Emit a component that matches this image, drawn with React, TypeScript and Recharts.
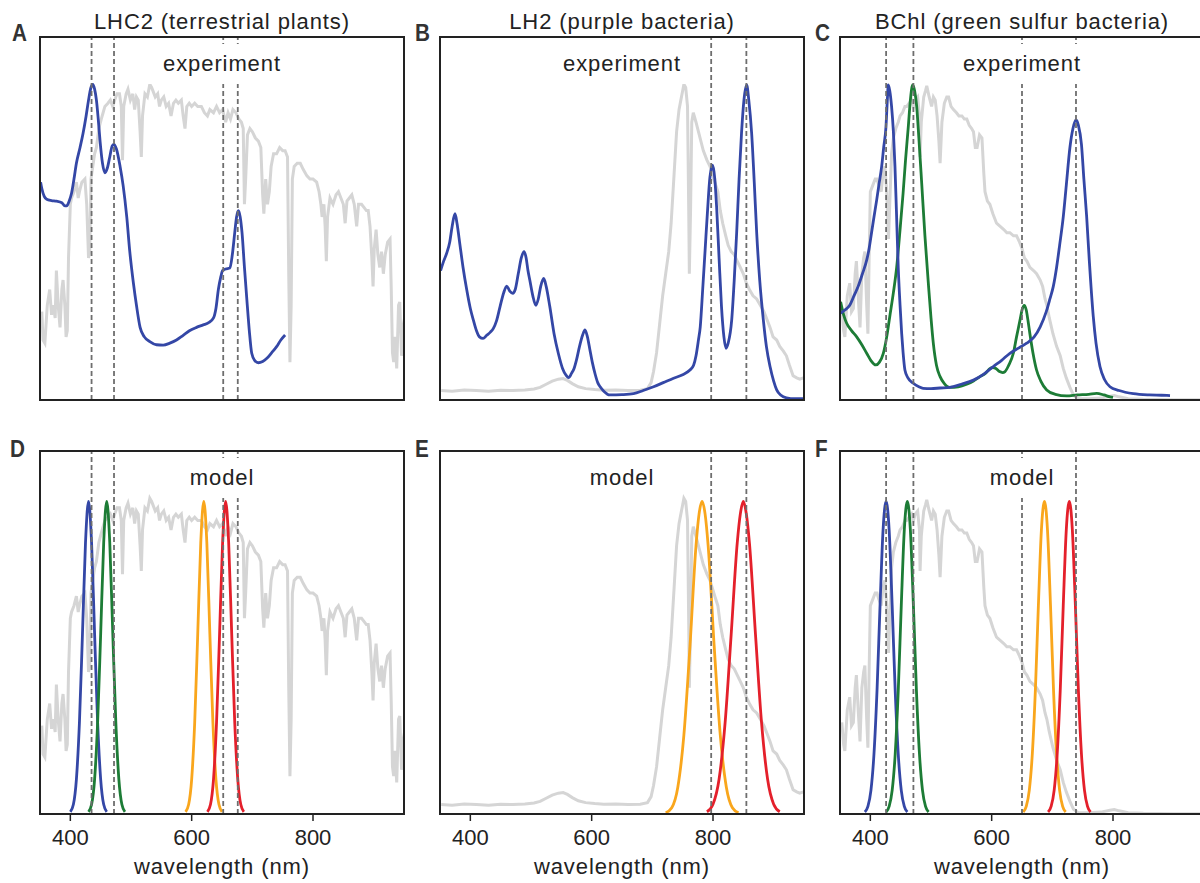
import React from "react";
import { LineChart, Line, XAxis, YAxis, ReferenceLine } from "recharts";

type Pt = [number, number];

// solar spectrum at the surface (panels A, D)
const SUN_SURFACE: Pt[] = [
  [353, 0.28], [355, 0.19], [358, 0.18], [362, 0.3], [366, 0.35], [369, 0.27], [372, 0.3], [375, 0.26],
  [377, 0.41], [380, 0.3], [383, 0.23], [386, 0.35], [388, 0.38], [391, 0.3], [393, 0.2], [395, 0.22],
  [397, 0.45], [400, 0.62], [402, 0.64], [406, 0.66], [410, 0.69], [413, 0.64], [415, 0.66], [419, 0.69],
  [424, 0.7], [427, 0.62], [430, 0.45], [432, 0.47], [434, 0.7], [437, 0.74], [440, 0.78], [443, 0.8],
  [447, 0.86], [451, 0.89], [454, 0.91], [457, 0.93], [462, 0.94], [466, 0.95], [470, 0.93], [473, 0.95],
  [477, 0.97], [481, 0.97], [484, 0.93], [486, 0.76], [488, 0.93], [492, 0.97], [495, 0.985], [499, 0.95],
  [503, 0.97], [506, 0.92], [509, 0.96], [512, 0.95], [515, 0.85], [517, 0.77], [519, 0.9], [523, 0.97],
  [527, 0.96], [531, 1.0], [534, 0.99], [536, 0.98], [540, 0.96], [544, 0.97], [547, 0.93], [550, 0.95],
  [554, 0.96], [558, 0.93], [562, 0.94], [566, 0.9], [570, 0.94], [574, 0.95], [578, 0.94], [583, 0.95],
  [586, 0.9], [589, 0.86], [592, 0.93], [596, 0.94], [600, 0.93], [605, 0.94], [610, 0.93], [616, 0.93],
  [621, 0.91], [626, 0.9], [630, 0.92], [636, 0.91], [641, 0.93], [646, 0.91], [651, 0.92], [656, 0.88],
  [660, 0.91], [664, 0.89], [668, 0.92], [673, 0.91], [678, 0.89], [682, 0.88], [685, 0.86], [687, 0.62],
  [689, 0.7], [692, 0.84], [696, 0.86], [700, 0.85], [705, 0.83], [710, 0.82], [714, 0.8], [717, 0.65],
  [719, 0.59], [722, 0.7], [725, 0.62], [728, 0.66], [731, 0.74], [735, 0.78], [740, 0.78], [745, 0.8],
  [750, 0.79], [754, 0.79], [758, 0.77], [760, 0.4], [762, 0.12], [764, 0.3], [766, 0.7], [769, 0.74],
  [774, 0.75], [779, 0.75], [784, 0.73], [790, 0.71], [795, 0.7], [800, 0.7], [806, 0.69], [810, 0.66],
  [813, 0.62], [815, 0.58], [818, 0.62], [820, 0.55], [822, 0.44], [824, 0.58], [828, 0.64], [833, 0.62],
  [838, 0.65], [842, 0.66], [846, 0.64], [850, 0.62], [853, 0.56], [856, 0.63], [860, 0.64], [864, 0.65],
  [868, 0.62], [872, 0.55], [875, 0.62], [880, 0.62], [884, 0.61], [888, 0.6], [891, 0.6], [894, 0.55],
  [897, 0.45], [899, 0.36], [901, 0.48], [904, 0.54], [907, 0.46], [910, 0.42], [913, 0.47], [916, 0.4],
  [919, 0.46], [923, 0.5], [927, 0.51], [929, 0.35], [931, 0.15], [933, 0.12], [935, 0.2], [938, 0.1],
  [941, 0.3], [943, 0.31], [946, 0.14], [949, 0.24], [951, 0.26],
];

// light under other layers, near-infrared left (panels B, E)
const SUN_FILTERED_IR: Pt[] = [
  [352, 0.03], [370, 0.028], [390, 0.032], [410, 0.03], [430, 0.028], [450, 0.031], [470, 0.03], [490, 0.032],
  [505, 0.035], [515, 0.04], [525, 0.05], [535, 0.06], [545, 0.066], [553, 0.068], [560, 0.062], [568, 0.052],
  [578, 0.042], [590, 0.036], [605, 0.033], [620, 0.031], [640, 0.032], [660, 0.03], [680, 0.031], [692, 0.036],
  [698, 0.055], [702, 0.09], [707, 0.15], [712, 0.24], [717, 0.33], [722, 0.4], [727, 0.47], [731, 0.56],
  [736, 0.72], [740, 0.85], [744, 0.92], [747, 0.95], [750, 0.98], [752, 1.0], [755, 0.99], [758, 0.93],
  [760, 0.6], [761, 0.4], [763, 0.6], [765, 0.88], [767.5, 0.91], [772, 0.88], [776, 0.85], [784, 0.79],
  [790, 0.76], [795, 0.74], [803, 0.69], [808, 0.66], [812, 0.6], [816, 0.56], [821, 0.52], [825, 0.49],
  [830, 0.47], [835, 0.46], [840, 0.44], [845, 0.42], [850, 0.4], [855, 0.37], [860, 0.35], [866, 0.33],
  [872, 0.32], [878, 0.3], [884, 0.28], [889, 0.255], [894, 0.23], [899, 0.2], [905, 0.19], [910, 0.17],
  [916, 0.155], [921, 0.14], [926, 0.11], [932, 0.077], [938, 0.07], [943, 0.066], [949, 0.07],
];

// light reaching green sulfur bacteria (panels C, F)
const SUN_FILTERED_VIS: Pt[] = [
  [353, 0.29], [356, 0.22], [358, 0.2], [362, 0.33], [366, 0.37], [369, 0.28], [372, 0.29], [375, 0.4],
  [377, 0.44], [380, 0.33], [383, 0.23], [386, 0.4], [389, 0.45], [391, 0.47], [394, 0.3], [396, 0.21],
  [398, 0.45], [400, 0.66], [404, 0.68], [408, 0.7], [411, 0.7], [414, 0.68], [418, 0.66], [421, 0.72],
  [424, 0.74], [427, 0.66], [430, 0.51], [432, 0.62], [435, 0.78], [438, 0.83], [442, 0.86], [446, 0.88],
  [449, 0.9], [453, 0.91], [457, 0.93], [460, 0.93], [464, 0.94], [468, 0.95], [471, 0.93], [474, 0.95],
  [478, 0.96], [481, 0.9], [482, 0.77], [484, 0.88], [488, 0.96], [491, 0.98], [493, 0.995], [497, 0.96],
  [501, 0.93], [504, 0.96], [507, 0.95], [510, 0.9], [513, 0.82], [515, 0.75], [518, 0.88], [522, 0.94],
  [526, 0.96], [529, 0.96], [533, 0.93], [537, 0.92], [542, 0.91], [546, 0.9], [551, 0.9], [555, 0.89],
  [559, 0.89], [563, 0.87], [567, 0.86], [570, 0.85], [573, 0.8], [576, 0.8], [580, 0.84], [584, 0.83],
  [587, 0.72], [589, 0.66], [593, 0.63], [597, 0.62], [602, 0.59], [608, 0.56], [614, 0.55], [620, 0.54],
  [625, 0.53], [630, 0.53], [636, 0.52], [641, 0.52], [646, 0.5], [650, 0.48], [654, 0.45], [658, 0.44],
  [663, 0.42], [669, 0.41], [674, 0.4], [680, 0.38], [684, 0.36], [688, 0.32], [691, 0.3], [695, 0.26],
  [701, 0.21], [707, 0.17], [713, 0.14], [718, 0.1], [723, 0.07], [729, 0.04], [735, 0.015], [742, 0.005],
  [760, 0.004], [780, 0.006], [795, 0.012], [802, 0.014], [810, 0.01], [825, 0.004], [850, 0.002],
  [900, 0.001], [950, 0.001],
];

// measured absorption
const LHC2_ABS: Pt[] = [
  [351, 0.69], [353, 0.67], [357, 0.645], [361, 0.636], [369, 0.632], [377, 0.63], [386, 0.625], [391, 0.615],
  [394, 0.615], [398, 0.63], [402, 0.655], [406, 0.7], [410, 0.75], [416, 0.8], [421, 0.845], [426, 0.9],
  [430, 0.95], [434, 0.99], [437, 1.0], [440, 0.985], [443, 0.95], [446, 0.89], [449, 0.82], [453, 0.75],
  [457, 0.72], [461, 0.735], [465, 0.77], [469, 0.805], [472, 0.81], [476, 0.795], [482, 0.74], [487, 0.68],
  [493, 0.58], [498, 0.47], [504, 0.37], [509, 0.3], [515, 0.23], [522, 0.2], [531, 0.185], [542, 0.175],
  [553, 0.174], [564, 0.18], [575, 0.19], [586, 0.205], [597, 0.22], [608, 0.23], [619, 0.238], [628, 0.245],
  [636, 0.26], [640, 0.29], [644, 0.35], [648, 0.39], [651, 0.41], [656, 0.415], [663, 0.418], [667, 0.46],
  [671, 0.53], [674, 0.58], [677, 0.6], [680, 0.58], [683, 0.53], [687, 0.42], [691, 0.317], [695, 0.22],
  [699, 0.148], [704, 0.125], [710, 0.118], [717, 0.122], [724, 0.132], [732, 0.15], [740, 0.169],
  [747, 0.19], [754, 0.206],
];

const LH2_ABS: Pt[] = [
  [351, 0.41], [356, 0.44], [361, 0.465], [366, 0.5], [370, 0.55], [374.7, 0.59], [378, 0.56], [383, 0.49],
  [388, 0.42], [394, 0.35], [400, 0.29], [405, 0.253], [410, 0.22], [415, 0.2], [421, 0.195], [427, 0.205],
  [433, 0.215], [438, 0.227], [443, 0.25], [449, 0.296], [455, 0.34], [460, 0.361], [465, 0.345], [470, 0.338],
  [474, 0.35], [479, 0.4], [484, 0.45], [488.5, 0.47], [492, 0.45], [495, 0.41], [498, 0.38], [503, 0.33],
  [508, 0.3], [512, 0.32], [516, 0.36], [521, 0.385], [525, 0.36], [531, 0.296], [538, 0.21], [545, 0.148],
  [552, 0.1], [558, 0.078], [562, 0.071], [567, 0.085], [571, 0.1], [575, 0.127], [580, 0.17], [585, 0.205],
  [589, 0.222], [593, 0.2], [597, 0.16], [601, 0.12], [606, 0.08], [610, 0.055], [614, 0.042], [620, 0.028],
  [630, 0.016], [650, 0.017], [669, 0.02], [685, 0.03], [702, 0.042], [718, 0.055], [735, 0.069], [750, 0.08],
  [762, 0.095], [768, 0.11], [772, 0.14], [776, 0.19], [779, 0.232], [783, 0.35], [787, 0.475], [791, 0.6],
  [795, 0.707], [799.5, 0.744], [803, 0.7], [806, 0.61], [810, 0.45], [814, 0.296], [818, 0.2], [821.4, 0.164],
  [825, 0.18], [830.8, 0.253], [835, 0.38], [839, 0.53], [843, 0.7], [847, 0.845], [851, 0.95], [855.5, 0.998],
  [859, 0.95], [863.7, 0.845], [868, 0.69], [872, 0.53], [877, 0.38], [883, 0.253], [888, 0.17], [894, 0.106],
  [900, 0.06], [905, 0.032], [912, 0.015], [921, 0.007], [935, 0.004], [950, 0.004],
];

const BCHL_ABS: Pt[] = [
  [351, 0.275], [358, 0.285], [366, 0.3], [373, 0.33], [380, 0.36], [387, 0.4], [394, 0.443], [398, 0.48],
  [402, 0.53], [406, 0.58], [410.5, 0.634], [414, 0.68], [418.7, 0.74], [422, 0.8], [425.8, 0.866], [428, 0.95],
  [429.6, 0.998], [432, 0.98], [435, 0.93], [438, 0.85], [440.6, 0.74], [443, 0.6], [446, 0.42], [449, 0.3],
  [451.7, 0.21], [454, 0.15], [457, 0.095], [462, 0.07], [470.8, 0.053], [480, 0.042], [487, 0.037],
  [500, 0.036], [515, 0.038], [531, 0.04], [550, 0.05], [570, 0.063], [587, 0.082], [602.7, 0.106],
  [616, 0.125], [630, 0.148], [645, 0.165], [657.7, 0.18], [670, 0.2], [680, 0.232], [690, 0.28], [696, 0.32],
  [701.6, 0.36], [707, 0.42], [712, 0.49], [718, 0.58], [723, 0.68], [729, 0.8], [734, 0.86], [739, 0.887],
  [743, 0.87], [748, 0.81], [752, 0.7], [756.6, 0.58], [761, 0.44], [767.5, 0.264], [772, 0.18],
  [778.5, 0.106], [786, 0.065], [795, 0.042], [810, 0.03], [833.5, 0.02], [860, 0.016], [880, 0.015], [894, 0.014],
];

const CAROT_ABS: Pt[] = [
  [351, 0.311], [356, 0.27], [361, 0.243], [369, 0.22], [377.5, 0.2], [386, 0.175], [394, 0.148], [401, 0.125],
  [409, 0.111], [415, 0.12], [421.4, 0.148], [427, 0.2], [432, 0.264], [438, 0.34], [443.4, 0.42], [449, 0.54],
  [454, 0.655], [458, 0.76], [462.6, 0.866], [466, 0.95], [469.8, 0.998], [473, 0.98], [476.4, 0.93], [480, 0.83],
  [484.7, 0.686], [490, 0.52], [495.6, 0.37], [500, 0.26], [503.8, 0.18], [509, 0.11], [515, 0.074], [522, 0.052],
  [531, 0.04], [545, 0.042], [558.8, 0.05], [570, 0.06], [580.8, 0.074], [590, 0.085], [596, 0.098], [602, 0.103],
  [607, 0.1], [613, 0.09], [618, 0.087], [622, 0.09], [628, 0.11], [635.7, 0.148], [641, 0.2], [646.7, 0.253],
  [650, 0.285], [653.8, 0.3], [657, 0.285], [660, 0.25], [663, 0.21], [668, 0.15], [674, 0.095], [681, 0.06],
  [690.7, 0.032], [705, 0.018], [723.6, 0.013], [741, 0.016], [760, 0.018], [773, 0.021], [785, 0.016],
  [795, 0.01], [800, 0.008],
];

// model absorbers
const D_BLUE: Pt[] = [[400, 0.007], [405, 0.03], [410, 0.11], [415, 0.29], [420, 0.57], [425, 0.86], [430, 0.99], [435, 0.86], [440, 0.57], [445, 0.29], [450, 0.11], [455, 0.03], [460, 0.007]];
const D_GREEN: Pt[] = [[430, 0.007], [435, 0.03], [440, 0.11], [445, 0.29], [450, 0.57], [455, 0.86], [460, 0.99], [465, 0.86], [470, 0.57], [475, 0.29], [480, 0.11], [485, 0.03], [490, 0.007]];
const D_ORANGE: Pt[] = [[590, 0.007], [595, 0.03], [600, 0.11], [605, 0.29], [610, 0.57], [615, 0.86], [620, 0.99], [625, 0.86], [630, 0.57], [635, 0.29], [640, 0.11], [645, 0.03], [650, 0.007]];
const D_RED: Pt[] = [[626, 0.007], [631, 0.03], [636, 0.11], [641, 0.29], [646, 0.57], [651, 0.86], [656, 0.99], [661, 0.86], [666, 0.57], [671, 0.29], [676, 0.11], [681, 0.03], [686, 0.007]];

const E_ORANGE: Pt[] = [[722, 0.004], [732, 0.02], [742, 0.085], [752, 0.25], [762, 0.53], [772, 0.85], [777, 0.95], [782, 0.99], [787, 0.95], [792, 0.85], [802, 0.53], [812, 0.25], [822, 0.085], [832, 0.02], [842, 0.004]];
const E_RED: Pt[] = [[790, 0.007], [800, 0.031], [810, 0.11], [820, 0.29], [830, 0.57], [840, 0.86], [845, 0.95], [850, 0.99], [855, 0.95], [860, 0.86], [870, 0.57], [880, 0.29], [890, 0.11], [900, 0.031], [910, 0.007]];

const F_BLUE: Pt[] = [[391, 0.006], [396, 0.024], [401, 0.075], [406, 0.19], [411, 0.39], [416, 0.66], [421, 0.9], [426, 0.99], [431, 0.9], [436, 0.66], [441, 0.39], [446, 0.19], [451, 0.075], [456, 0.024], [461, 0.006]];
const F_GREEN: Pt[] = [[426, 0.006], [431, 0.024], [436, 0.075], [441, 0.19], [446, 0.39], [451, 0.66], [456, 0.9], [461, 0.99], [466, 0.9], [471, 0.66], [476, 0.39], [481, 0.19], [486, 0.075], [491, 0.024], [496, 0.006]];
const F_ORANGE: Pt[] = [[652, 0.006], [657, 0.024], [662, 0.075], [667, 0.19], [672, 0.39], [677, 0.66], [682, 0.9], [687, 0.99], [692, 0.9], [697, 0.66], [702, 0.39], [707, 0.19], [712, 0.075], [717, 0.024], [722, 0.006]];
const F_RED: Pt[] = [[693, 0.006], [698, 0.024], [703, 0.075], [708, 0.19], [713, 0.39], [718, 0.66], [723, 0.9], [728, 0.99], [733, 0.9], [738, 0.66], [743, 0.39], [748, 0.19], [753, 0.075], [758, 0.024], [763, 0.006]];

const TICKS = [400, 600, 800];
const LHC2_MARKS = [435, 472, 652, 676];
const LH2_MARKS = [797, 855];
const BCHL_MARKS = [426, 471, 650, 739];

const GRAY = "#d5d5d5";
const BLUE = "#3447a6";
const GREEN = "#1d7c36";
const ORANGE = "#f9a61c";
const RED = "#e4202b";
const DASH = "#6e6e6e";
const INK = "#222";
const FONT = '"Liberation Sans", Arial, sans-serif';

const BOX_W = 364;
const BOX_H = 363;
const PAD = 10;

type Series = { data: Pt[]; color: string; smooth: boolean };

interface PanelProps {
  letter: string;
  letterX: number;
  title?: string;
  label: string;
  left: number;
  top: number;
  series: Series[];
  marks: number[];
  axis: boolean;
}

const toPts = (arr: Pt[]) => arr.map(([x, y]) => ({ x, y }));

function Panel({ letter, letterX, title, label, left, top, series, marks, axis }: PanelProps) {
  const textStyle: React.CSSProperties = {
    position: "absolute",
    fontFamily: FONT,
    fontSize: 22,
    letterSpacing: 0.9,
    color: INK,
    whiteSpace: "nowrap",
    textAlign: "center",
  };
  return (
    <>
      <div style={{ position: "absolute", left: left - PAD, top: top - PAD }}>
        <LineChart
          width={BOX_W + 2 * PAD}
          height={BOX_H + PAD + (axis ? 40 : PAD)}
          margin={{ top: PAD, right: PAD, left: PAD, bottom: axis ? 0 : PAD }}
        >
          <XAxis
            dataKey="x"
            type="number"
            domain={[350, 950]}
            allowDataOverflow
            ticks={TICKS}
            hide={!axis}
            height={40}
            axisLine={false}
            tickLine={{ stroke: INK, strokeWidth: 1.5 }}
            tickSize={7}
            tickMargin={8}
            tick={{ fill: INK, fontSize: 22, fontFamily: FONT }}
          />
          <YAxis type="number" domain={[0, 1.15]} hide allowDataOverflow />
          {series.map((s, i) => (
            <Line
              key={i}
              data={toPts(s.data)}
              dataKey="y"
              type={s.smooth ? "monotone" : "linear"}
              stroke={s.color}
              strokeWidth={s.color === GRAY ? 3 : 2.8}
              dot={false}
              activeDot={false}
              isAnimationActive={false}
            />
          ))}
          {marks.map((m) => (
            <ReferenceLine key={m} x={m} stroke={DASH} strokeWidth={1.8} strokeDasharray="5 3" />
          ))}
        </LineChart>
      </div>
      <div
        style={{
          position: "absolute",
          left: left - 1,
          top: top - 1,
          width: BOX_W + 2,
          height: BOX_H + 2,
          border: `2px solid ${INK}`,
          boxSizing: "border-box",
        }}
      />
      <div
        style={{
          ...textStyle,
          left: left + BOX_W / 2 - (label.length * 7 + 12),
          width: 2 * (label.length * 7 + 12),
          top: top + 7,
          height: 40,
          lineHeight: "40px",
          background: "#fff",
        }}
      >
        {label}
      </div>
      {title && (
        <div style={{ ...textStyle, left, width: BOX_W, top: top - 27, lineHeight: "24px" }}>{title}</div>
      )}
      {axis && (
        <div style={{ ...textStyle, left, width: BOX_W, top: top + BOX_H + 41, lineHeight: "24px" }}>
          wavelength (nm)
        </div>
      )}
      <div
        style={{
          position: "absolute",
          left: letterX,
          top: axis ? top - 14 : top - 16,
          fontFamily: FONT,
          fontWeight: 700,
          fontSize: 23,
          lineHeight: "24px",
          color: "#333",
          transform: "scaleX(0.9)",
          transformOrigin: "left top",
        }}
      >
        {letter}
      </div>
    </>
  );
}

export default function App() {
  const row1 = 37;
  const row2 = 451;
  return (
    <div
      style={{
        position: "absolute",
        left: 0,
        top: 0,
        width: 1200,
        height: 883,
        overflow: "hidden",
        background: "#fff",
      }}
    >
      <Panel
        letter="A"
        letterX={12}
        title="LHC2 (terrestrial plants)"
        label="experiment"
        left={40}
        top={row1}
        axis={false}
        marks={LHC2_MARKS}
        series={[
          { data: SUN_SURFACE, color: GRAY, smooth: false },
          { data: LHC2_ABS, color: BLUE, smooth: true },
        ]}
      />
      <Panel
        letter="B"
        letterX={415}
        title="LH2 (purple bacteria)"
        label="experiment"
        left={440}
        top={row1}
        axis={false}
        marks={LH2_MARKS}
        series={[
          { data: SUN_FILTERED_IR, color: GRAY, smooth: false },
          { data: LH2_ABS, color: BLUE, smooth: true },
        ]}
      />
      <Panel
        letter="C"
        letterX={815}
        title="BChl (green sulfur bacteria)"
        label="experiment"
        left={840}
        top={row1}
        axis={false}
        marks={BCHL_MARKS}
        series={[
          { data: SUN_FILTERED_VIS, color: GRAY, smooth: false },
          { data: CAROT_ABS, color: GREEN, smooth: true },
          { data: BCHL_ABS, color: BLUE, smooth: true },
        ]}
      />
      <Panel
        letter="D"
        letterX={10}
        label="model"
        left={40}
        top={row2}
        axis
        marks={LHC2_MARKS}
        series={[
          { data: SUN_SURFACE, color: GRAY, smooth: false },
          { data: D_BLUE, color: BLUE, smooth: true },
          { data: D_GREEN, color: GREEN, smooth: true },
          { data: D_ORANGE, color: ORANGE, smooth: true },
          { data: D_RED, color: RED, smooth: true },
        ]}
      />
      <Panel
        letter="E"
        letterX={415}
        label="model"
        left={440}
        top={row2}
        axis
        marks={LH2_MARKS}
        series={[
          { data: SUN_FILTERED_IR, color: GRAY, smooth: false },
          { data: E_ORANGE, color: ORANGE, smooth: true },
          { data: E_RED, color: RED, smooth: true },
        ]}
      />
      <Panel
        letter="F"
        letterX={815}
        label="model"
        left={840}
        top={row2}
        axis
        marks={BCHL_MARKS}
        series={[
          { data: SUN_FILTERED_VIS, color: GRAY, smooth: false },
          { data: F_BLUE, color: BLUE, smooth: true },
          { data: F_GREEN, color: GREEN, smooth: true },
          { data: F_ORANGE, color: ORANGE, smooth: true },
          { data: F_RED, color: RED, smooth: true },
        ]}
      />
    </div>
  );
}
